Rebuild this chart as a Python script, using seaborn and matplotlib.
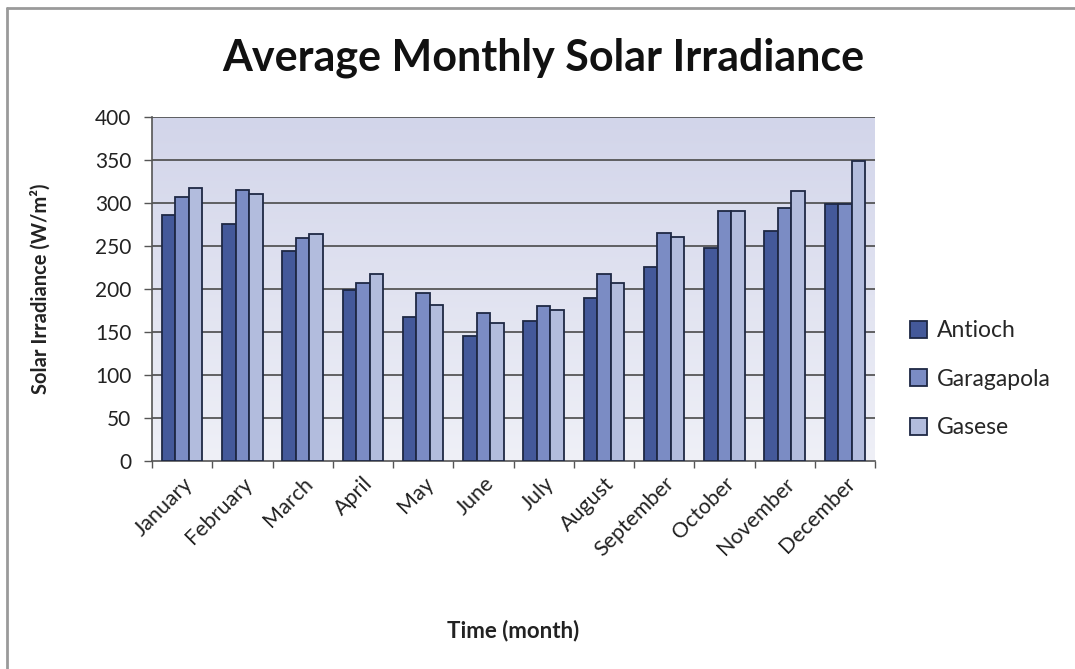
import numpy as np
import pandas as pd
import matplotlib
matplotlib.use("Agg")
import matplotlib.pyplot as plt
import seaborn as sns
from matplotlib.lines import Line2D
from matplotlib.colors import LinearSegmentedColormap

months = ["January", "February", "March", "April", "May", "June", "July",
          "August", "September", "October", "November", "December"]
series = ["Antioch", "Garagapola", "Gasese"]
antioch = [286, 276, 244, 199, 167, 145, 163, 190, 226, 248, 267, 299]
garagapola = [307, 315, 259, 207, 195, 172, 180, 218, 265, 291, 294, 299]
gasese = [317, 311, 264, 217, 181, 160, 176, 207, 261, 291, 314, 349]
yticks = [0, 50, 100, 150, 200, 250, 300, 350, 400]

colors = ["#44599a", "#7b8cc4", "#b2bcdd"]

df = pd.DataFrame({
    "Month": months * 3,
    "Series": [series[0]] * 12 + [series[1]] * 12 + [series[2]] * 12,
    "Value": antioch + garagapola + gasese,
})

sns.set_theme(style="white")
plt.rcParams["font.family"] = ["Lato", "DejaVu Sans"]

fig = plt.figure(figsize=(10.75, 6.69), dpi=100)
ax = fig.add_axes([152 / 1075, 1 - 461 / 669, (875 - 152) / 1075, (461 - 117) / 669])

# gradient background of plot area
grad = np.linspace(0, 1, 256).reshape(-1, 1)
cmap = LinearSegmentedColormap.from_list("bg", ["#eff0f7", "#d2d5ea"])
ax.imshow(grad, extent=[-0.5, 11.5, 0, 400], origin="lower", aspect="auto",
          cmap=cmap, zorder=0)

sns.barplot(data=df, x="Month", y="Value", hue="Series", palette=colors,
            width=0.67, edgecolor="#1e2844", linewidth=1.3, ax=ax,
            saturation=1, zorder=3)

ax.set_xlim(-0.5, 11.5)
ax.set_ylim(0, 400)
ax.set_yticks(yticks)
ax.set_yticklabels([str(v) for v in yticks], fontsize=15, color="#222222")
for y in yticks[1:]:
    ax.axhline(y, color="#4a4a4a", linewidth=1.2, zorder=1)

ax.set_xticks(range(12))
ax.set_xticklabels(months, rotation=45, ha="right", rotation_mode="anchor",
                   fontsize=15.5, color="#222222")
ax.set_xticks(np.arange(-0.5, 12, 1), minor=True)
ax.tick_params(axis="x", which="major", length=0, pad=9)
ax.tick_params(axis="x", which="minor", length=5, width=1, color="#555555",
               direction="out", bottom=True)
ax.tick_params(axis="y", which="major", length=6, width=1, color="#555555",
               direction="out", left=True, pad=9)

for s in ["top", "right"]:
    ax.spines[s].set_visible(False)
for s in ["left", "bottom"]:
    ax.spines[s].set_color("#555555")
    ax.spines[s].set_linewidth(1.2)

ax.set_xlabel("Time (month)", fontsize=16, fontweight="bold", color="#222222")
ax.set_ylabel("Solar Irradiance (W/m²)", fontsize=14.5, fontweight="bold",
              color="#222222")
ax.xaxis.set_label_coords(0.5, -0.46)
ax.yaxis.set_label_coords(-0.14, 0.5)

fig.suptitle("Average Monthly Solar Irradiance", fontsize=31, fontweight="bold",
             color="#111111", x=543 / 1075, y=1 - 58 / 669, va="center")

handles, labels = ax.get_legend_handles_labels()
ax.legend(handles, labels, loc="center left", bbox_to_anchor=(1.02, 0.238),
          frameon=False, fontsize=16.5, handlelength=0.75, handleheight=0.75,
          handletextpad=0.4, labelspacing=1.2)

# outer chart frame lines
fig.add_artist(Line2D([7 / 1075, 7 / 1075], [0, 1 - 8 / 669], transform=fig.transFigure,
                      color="#9a9a9a", linewidth=2))
fig.add_artist(Line2D([7 / 1075, 1], [1 - 8 / 669, 1 - 8 / 669], transform=fig.transFigure,
                      color="#9a9a9a", linewidth=2))

fig.savefig("out.png", dpi=100)
